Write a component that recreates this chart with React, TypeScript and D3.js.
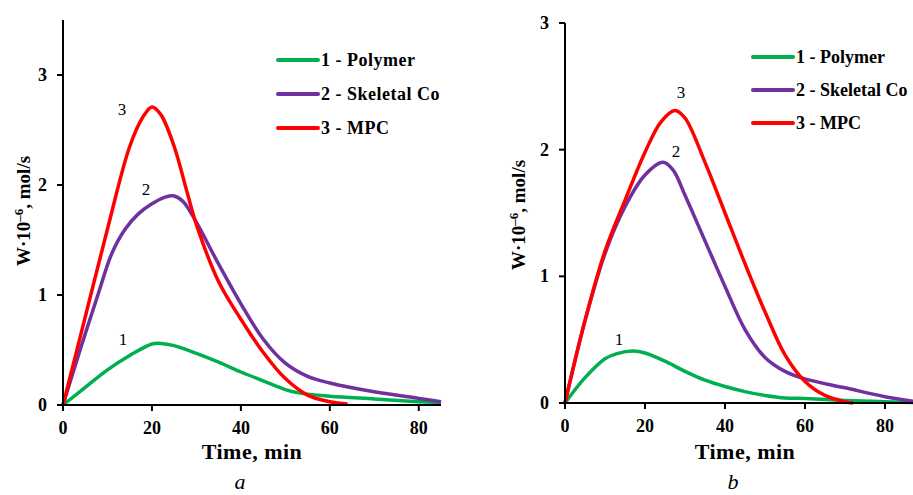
import React from 'react';
import * as d3 from 'd3';

// panel a
const timeA1 = [0, 5, 10, 15, 20, 22, 25, 30, 35, 40, 45, 50, 53, 60, 70, 80, 85];
const polymerA = [0, 0.16, 0.32, 0.45, 0.555, 0.56, 0.54, 0.47, 0.39, 0.3, 0.22, 0.14, 0.11, 0.08, 0.055, 0.03, 0.02];
const timeA2 = [0, 4, 8, 11, 14, 17, 20, 23, 25, 27, 30, 35, 40, 45, 50, 55, 60, 70, 80, 85];
const skeletalA = [0, 0.52, 1.02, 1.38, 1.6, 1.74, 1.83, 1.89, 1.9, 1.85, 1.66, 1.28, 0.92, 0.6, 0.38, 0.26, 0.2, 0.12, 0.06, 0.03];
const timeA3 = [0, 5, 10, 15, 18, 20, 22, 25, 28, 30, 35, 40, 45, 50, 55, 60, 64];
const mpcA = [0, 0.8, 1.6, 2.35, 2.62, 2.71, 2.64, 2.35, 1.92, 1.64, 1.12, 0.78, 0.48, 0.24, 0.09, 0.03, 0.01];

// panel b
const timeB1 = [0, 5, 10, 13, 17, 20, 25, 30, 35, 40, 45, 50, 55, 60, 70, 80, 90];
const polymerB = [0, 0.2, 0.35, 0.39, 0.41, 0.395, 0.33, 0.25, 0.18, 0.13, 0.09, 0.06, 0.04, 0.035, 0.02, 0.01, 0];
const timeB2 = [0, 5, 10, 15, 20, 24.5, 27, 30, 35, 40, 45, 50, 55, 60, 70, 80, 88];
const skeletalB = [0, 0.65, 1.18, 1.55, 1.8, 1.9, 1.84, 1.64, 1.28, 0.92, 0.58, 0.36, 0.25, 0.19, 0.12, 0.05, 0.01];
const timeB3 = [0, 5, 10, 15, 20, 24, 27.5, 30, 35, 40, 45, 50, 55, 60, 65, 70, 72];
const mpcB = [0, 0.65, 1.2, 1.6, 1.98, 2.22, 2.31, 2.25, 1.9, 1.5, 1.1, 0.72, 0.38, 0.17, 0.06, 0.01, 0];

const xTicks = [0, 20, 40, 60, 80];
const yTicks = [0, 1, 2, 3];
const legendNames = ['1 - Polymer', '2 - Skeletal Co', '3 - MPC'];
const colors = ['#00B050', '#7030A0', '#FF0000'];

const font = '"Liberation Serif", "Times New Roman", serif';

function Panel(props) {
  const { xr, yr, xMax, yMax, series, numLabels, legend, yLabel, xLabelX, letter } = props;
  const x = d3.scaleLinear().domain([0, xMax]).range(xr);
  const y = d3.scaleLinear().domain([0, yMax]).range(yr);
  const line = d3.line().x((d) => x(d[0])).y((d) => y(d[1])).curve(d3.curveCatmullRom.alpha(0.5));

  return (
    <g fontFamily={font}>
      {series.map((s, i) => (
        <path key={i} d={line(s.t.map((t, j) => [t, s.v[j]]))}
              fill="none" stroke={colors[i]} strokeWidth={3.5} strokeLinejoin="round" />
      ))}
      {/* axes */}
      <line x1={xr[0]} x2={xr[1]} y1={yr[0]} y2={yr[0]} stroke="#000" strokeWidth={2} />
      <line x1={xr[0]} x2={xr[0]} y1={yr[0]} y2={yr[1]} stroke="#000" strokeWidth={2} />
      {xTicks.map((t) => (
        <g key={'x' + t}>
          <line x1={x(t)} x2={x(t)} y1={y(0)} y2={y(0) + 6} stroke="#000" strokeWidth={2} />
          <text x={x(t)} y={y(0) + 29} textAnchor="middle" fontSize={18} fontWeight="bold">{t}</text>
        </g>
      ))}
      {yTicks.map((t) => (
        <g key={'y' + t}>
          <line x1={x(0) - 6} x2={x(0)} y1={y(t)} y2={y(t)} stroke="#000" strokeWidth={2} />
          <text x={x(0) - 16} y={y(t) + 6} textAnchor="end" fontSize={18} fontWeight="bold">{t}</text>
        </g>
      ))}
      <text x={xLabelX} y={459} textAnchor="middle" fontSize={22} fontWeight="bold" letterSpacing={0.5}>Time, min</text>
      <text x={xLabelX - 12} y={489} textAnchor="middle" fontSize={22} fontStyle="italic">{letter}</text>
      <text transform={`translate(${yLabel[0]},${yLabel[1]}) rotate(-90)`} textAnchor="middle"
            fontSize={19} fontWeight="bold">
        W·10<tspan dy={-7} fontSize={13}>–6</tspan><tspan dy={7}>, mol/s</tspan>
      </text>
      {numLabels.map((p, i) => (
        <text key={'n' + i} x={p[0]} y={p[1]} textAnchor="middle" fontSize={17}>{i + 1}</text>
      ))}
      {legendNames.map((n, i) => (
        <g key={'l' + i}>
          <line x1={legend[0]} x2={legend[0] + 40} y1={legend[1] + i * legend[2]} y2={legend[1] + i * legend[2]}
                stroke={colors[i]} strokeWidth={4} strokeLinecap="round" />
          <text x={legend[0] + 43} y={legend[1] + i * legend[2] + 6} fontSize={18} fontWeight="bold"
                letterSpacing={legend[3]}>{n}</text>
        </g>
      ))}
    </g>
  );
}

export default function App() {
  return (
    <svg width={913} height={495} style={{ position: 'absolute', left: 0, top: 0, background: '#fff' }}>
      <rect width={913} height={495} fill="#fff" />
      <Panel xr={[63, 441]} yr={[405, 20]} xMax={85} yMax={3.5}
             series={[{ t: timeA1, v: polymerA }, { t: timeA2, v: skeletalA }, { t: timeA3, v: mpcA }]}
             numLabels={[[123, 345], [146, 195], [122, 115]]}
             legend={[278, 60, 34, 0.5]} yLabel={[30, 211]} xLabelX={252} letter="a" />
      <Panel xr={[565, 925]} yr={[403, 23]} xMax={90} yMax={3}
             series={[{ t: timeB1, v: polymerB }, { t: timeB2, v: skeletalB }, { t: timeB3, v: mpcB }]}
             numLabels={[[619, 345], [676, 157], [681, 98]]}
             legend={[753, 57, 33, 0]} yLabel={[525, 215]} xLabelX={745} letter="b" />
    </svg>
  );
}
